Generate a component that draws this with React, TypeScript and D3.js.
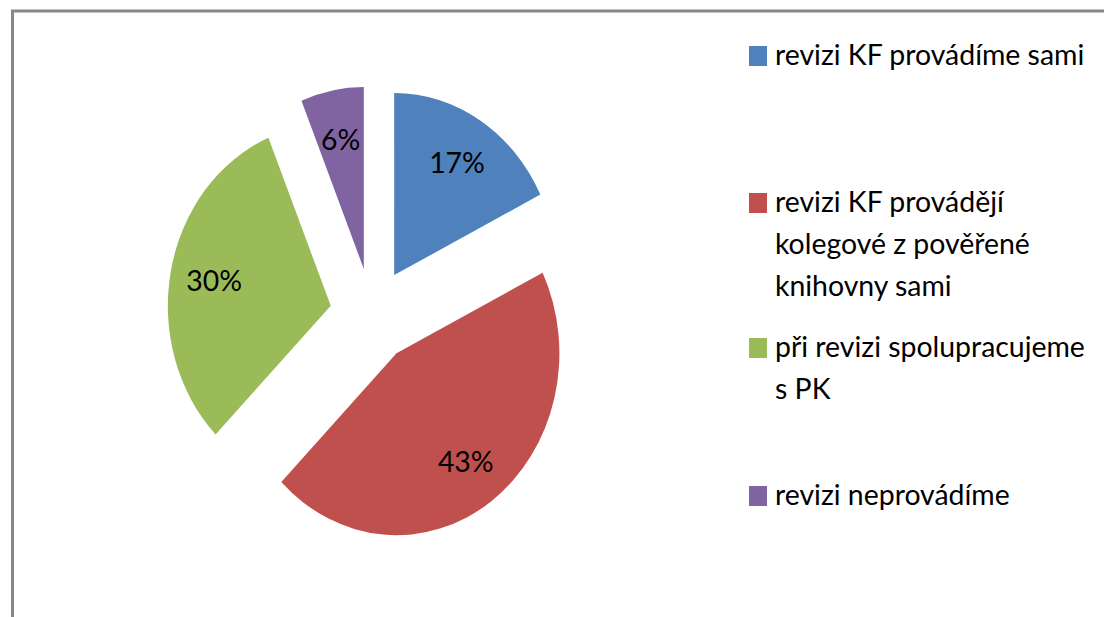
import { useEffect, useRef } from 'react';
import * as d3 from 'd3';

// Chart data
const categories = [
  'revizi KF provádíme sami',
  'revizi KF provádějí kolegové z pověřené knihovny sami',
  'při revizi spolupracujeme s PK',
  'revizi neprovádíme',
];
const legendLines = [
  ['revizi KF provádíme sami'],
  ['revizi KF provádějí', 'kolegové z pověřené', 'knihovny sami'],
  ['při revizi spolupracujeme', 's PK'],
  ['revizi neprovádíme'],
];
const values = [17, 43, 30, 6];
const colors = ['#4F81BD', '#C0504D', '#9BBB59', '#8064A2'];

// first baseline of each legend entry
const legendY = [65, 212, 357, 505];

const W = 1104;
const H = 617;
const FONT = 'Lato, "Open Sans", sans-serif';

const App = () => {
  const svgRef = useRef<SVGSVGElement | null>(null);

  useEffect(() => {
    document.body.style.margin = '0';
    const svg = d3.select(svgRef.current);
    svg.selectAll('*').remove();

    // chart frame (only top and left edges are visible)
    svg.append('rect').attr('width', W).attr('height', H).attr('fill', '#fff');
    svg.append('path')
      .attr('d', `M12.5,${H} L12.5,11 L${W},11`)
      .attr('fill', 'none')
      .attr('stroke', '#878787')
      .attr('stroke-width', 3);

    // exploded pie
    const cx = 372;
    const cy = 315;
    const r = 182;
    const explode = 47;
    const sx = 0.895; // picture is a little squeezed horizontally
    const tsx = 0.98;

    const pie = d3.pie<number>().sort(null).value(d => d);
    const arcs = pie(values);
    const arc = d3.arc<d3.PieArcDatum<number>>().innerRadius(0).outerRadius(r);

    const g = svg.append('g')
      .attr('transform', `translate(${cx},${cy}) scale(${sx},1)`);

    g.selectAll('path.slice')
      .data(arcs)
      .enter()
      .append('path')
      .attr('class', 'slice')
      .attr('d', arc)
      .attr('fill', (d, i) => colors[i])
      .attr('transform', d => {
        const a = (d.startAngle + d.endAngle) / 2;
        return `translate(${explode * Math.sin(a)},${-explode * Math.cos(a)})`;
      });

    // data labels
    const labelDist = explode + r * 0.73;
    svg.selectAll('text.pct')
      .data(arcs)
      .enter()
      .append('text')
      .attr('class', 'pct')
      .attr('transform', d => {
        const a = (d.startAngle + d.endAngle) / 2;
        const x = cx + sx * labelDist * Math.sin(a);
        const y = cy - labelDist * Math.cos(a);
        return `translate(${x},${y}) scale(${tsx},1)`;
      })
      .attr('text-anchor', 'middle')
      .attr('dominant-baseline', 'central')
      .attr('font-family', FONT)
      .attr('font-size', 29)
      .attr('fill', '#000')
      .text(d => `${d.data}%`);

    // legend
    const lineH = 42;
    const lg = svg.append('g').attr('class', 'legend');
    categories.forEach((c, i) => {
      const item = lg.append('g');
      item.append('rect')
        .attr('x', 749)
        .attr('y', legendY[i] - 19)
        .attr('width', 18)
        .attr('height', 20)
        .attr('fill', colors[i]);
      const t = item.append('text')
        .attr('font-family', FONT)
        .attr('font-size', 29)
        .attr('fill', '#000')
        .attr('transform', `translate(775,${legendY[i]}) scale(${tsx},1)`);
      legendLines[i].forEach((line, j) => {
        t.append('tspan')
          .attr('x', 0)
          .attr('y', j * lineH)
          .text(line);
      });
    });
  }, []);

  return (
    <div style={{ position: 'absolute', left: 0, top: 0 }}>
      <svg ref={svgRef} width={W} height={H} style={{ display: 'block' }}></svg>
    </div>
  );
};

export default App;
